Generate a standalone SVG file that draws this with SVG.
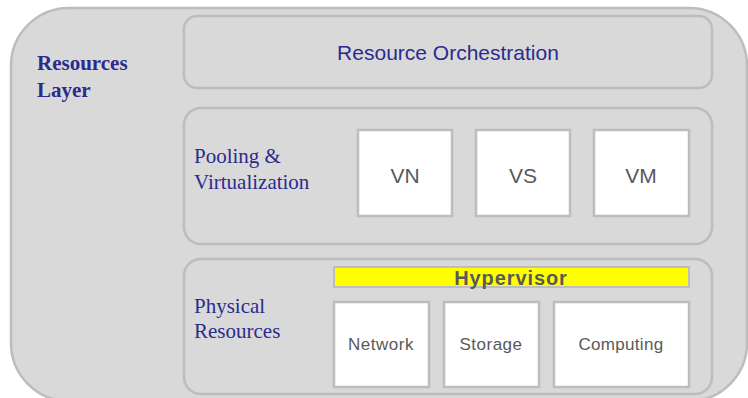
<svg xmlns="http://www.w3.org/2000/svg" width="748" height="398" viewBox="0 0 748 398">
<style>
.panel{fill:#d9d9d9;stroke:#bdbdbd;stroke-width:2.5}
.box{fill:#ffffff;stroke:#bdbdbd;stroke-width:2.5}
.hyp{fill:#ffff00;stroke:#bdbdbd;stroke-width:2}
.blue{fill:#2b2b8e;font-family:"Liberation Serif",serif;font-size:21px}
.sans{font-family:"Liberation Sans",Arial,sans-serif;fill:#595959}
</style>
<rect width="748" height="398" fill="#ffffff"/>
<g id="resources-layer">
<rect class="panel" x="11" y="8" width="736" height="393" rx="58"/>
<text class="blue" x="37" y="70" font-weight="bold">Resources</text>
<text class="blue" x="37" y="97" font-weight="bold">Layer</text>
</g>
<g id="orchestration">
<rect class="panel" x="184" y="16" width="528" height="72" rx="13"/>
<text x="448" y="60" text-anchor="middle" font-family="Liberation Sans, Arial, sans-serif" font-size="21" fill="#2b2b8e">Resource Orchestration</text>
</g>
<g id="pooling">
<rect class="panel" x="184" y="108" width="528" height="136" rx="17"/>
<text class="blue" x="194" y="163">Pooling &amp;</text>
<text class="blue" x="194" y="189">Virtualization</text>
</g>
<g id="vn">
<rect class="box" x="358" y="130" width="94" height="86"/>
<text class="sans" x="405" y="183" text-anchor="middle" font-size="21">VN</text>
</g>
<g id="vs">
<rect class="box" x="476" y="130" width="94" height="86"/>
<text class="sans" x="523" y="183" text-anchor="middle" font-size="21">VS</text>
</g>
<g id="vm">
<rect class="box" x="594" y="130" width="95" height="86"/>
<text class="sans" x="641" y="183" text-anchor="middle" font-size="21">VM</text>
</g>
<g id="physical">
<rect class="panel" x="184" y="259" width="528" height="135" rx="17"/>
<text class="blue" x="194" y="313">Physical</text>
<text class="blue" x="194" y="338">Resources</text>
</g>
<g id="hypervisor">
<rect class="hyp" x="334" y="267" width="355" height="20"/>
<text class="sans" x="511" y="285" text-anchor="middle" font-size="20" font-weight="bold" letter-spacing="0.9">Hypervisor</text>
</g>
<g id="network">
<rect class="box" x="334" y="302" width="95" height="85"/>
<text class="sans" x="381" y="350" text-anchor="middle" font-size="17" letter-spacing="0.5">Network</text>
</g>
<g id="storage">
<rect class="box" x="444" y="302" width="95" height="85"/>
<text class="sans" x="491" y="350" text-anchor="middle" font-size="17" letter-spacing="0.5">Storage</text>
</g>
<g id="computing">
<rect class="box" x="554" y="302" width="135" height="85"/>
<text class="sans" x="621" y="350" text-anchor="middle" font-size="17" letter-spacing="0.3">Computing</text>
</g>
<g id="connectors"/>
</svg>
